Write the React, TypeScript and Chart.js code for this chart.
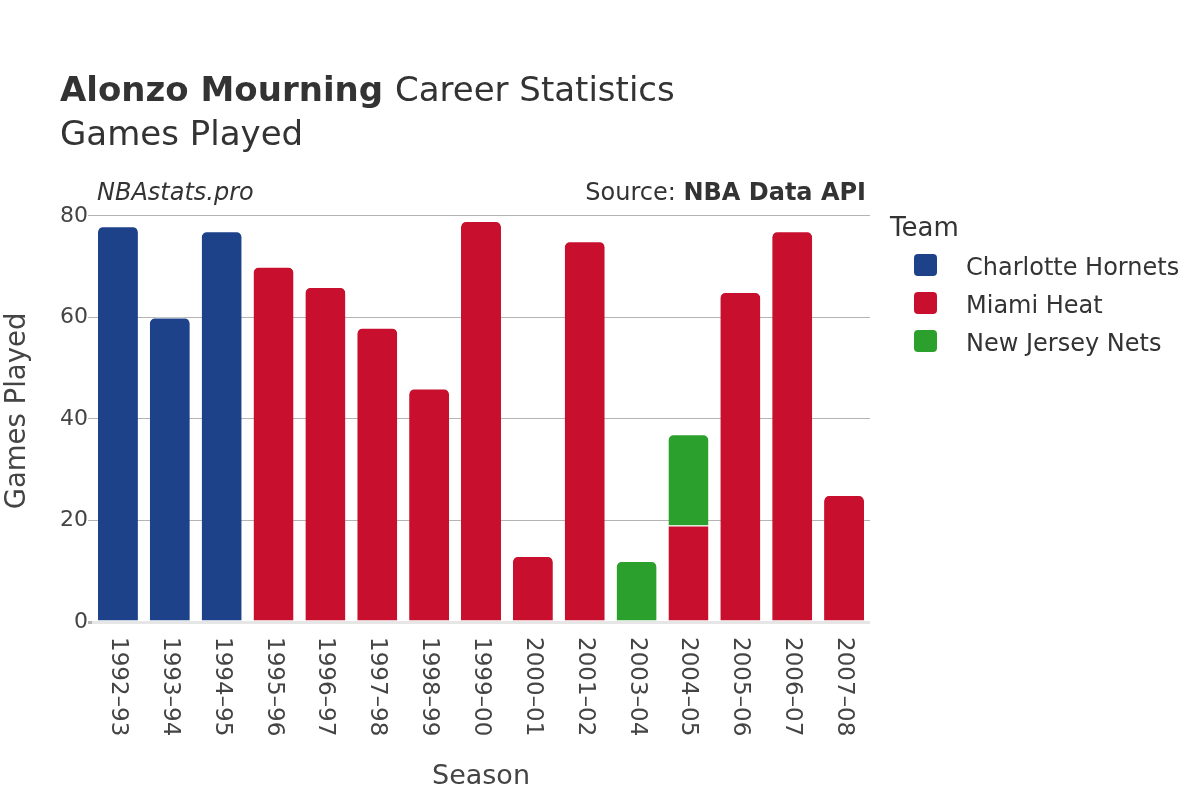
import React, { useEffect, useRef } from "react";
import { Chart, registerables } from "chart.js";

Chart.register(...registerables);

const seasons = [
  "1992–93", "1993–94", "1994–95", "1995–96", "1996–97", "1997–98", "1998–99",
  "1999–00", "2000–01", "2001–02", "2003–04", "2004–05", "2005–06", "2006–07", "2007–08",
];
const charlotteGames = [78, 60, 77, null, null, null, null, null, null, null, null, null, null, null, null];
const miamiGames = [null, null, null, 70, 66, 58, 46, 79, 13, 75, null, 19, 65, 77, 25];
const njGames = [null, null, null, null, null, null, null, null, null, null, 12, 18, null, null, null];
const teamNames = ["Charlotte Hornets", "Miami Heat", "New Jersey Nets"];
const teamColors = ["#1d428a", "#c8102e", "#2ca02c"];
const yTickValues = [0, 20, 40, 60, 80];

const titleBold = "Alonzo Mourning";
const titleRest = "Career Statistics";
const subtitle = "Games Played";
const watermark = "NBAstats.pro";
const sourceLabel = "Source: ";
const sourceBold = "NBA Data API";
const legendTitle = "Team";
const xTitle = "Season";
const yTitle = "Games Played";

const FONT = '"DejaVu Sans", Verdana, sans-serif';
const seriesList = [charlotteGames, miamiGames, njGames];

const textPlugin = {
  id: "textPlugin",
  afterDraw(chart: any) {
    const ctx: CanvasRenderingContext2D = chart.ctx;
    ctx.save();
    ctx.fillStyle = "#333";
    ctx.textAlign = "left";
    ctx.textBaseline = "alphabetic";
    ctx.font = `bold 34px ${FONT}`;
    ctx.fillText(titleBold, 60, 101);
    const tw = ctx.measureText(titleBold + " ").width;
    ctx.font = `34px ${FONT}`;
    ctx.fillText(titleRest, 60 + tw, 101);
    ctx.fillText(subtitle, 60, 145);

    ctx.font = `italic 24px ${FONT}`;
    ctx.fillText(watermark, 97, 200);

    ctx.textAlign = "right";
    ctx.font = `bold 24px ${FONT}`;
    const bw = ctx.measureText(sourceBold).width;
    ctx.fillText(sourceBold, 866, 200);
    ctx.font = `24px ${FONT}`;
    ctx.fillText(sourceLabel, 866 - bw, 200);

    // rotated x tick labels (clockwise)
    const xs = chart.scales.x;
    ctx.fillStyle = "#444";
    ctx.font = `23px ${FONT}`;
    ctx.textAlign = "left";
    ctx.textBaseline = "middle";
    seasons.forEach((s, i) => {
      const x = xs.getPixelForTick(i);
      ctx.save();
      ctx.translate(x, xs.top + 15);
      ctx.rotate(Math.PI / 2);
      ctx.fillText(s, 0, 0);
      ctx.restore();
    });

    // legend
    ctx.fillStyle = "#333";
    ctx.textBaseline = "alphabetic";
    ctx.font = `26px ${FONT}`;
    ctx.fillText(legendTitle, 890, 236);
    ctx.font = `24px ${FONT}`;
    chart.data.datasets.forEach((ds: any, i: number) => {
      const cy = 265 + 38 * i;
      ctx.fillStyle = ds.backgroundColor;
      ctx.beginPath();
      (ctx as any).roundRect(914, cy - 11, 23, 22, 4);
      ctx.fill();
      ctx.fillStyle = "#333";
      ctx.fillText(ds.label, 966, cy + 10);
    });
    ctx.restore();
  },
};

export default function App() {
  const ref = useRef<HTMLCanvasElement | null>(null);
  useEffect(() => {
    if (!ref.current) return;
    Chart.defaults.font.family = FONT;
    const chart = new Chart(ref.current, {
      type: "bar",
      data: {
        labels: seasons,
        datasets: seriesList.map((data, d) => ({
          label: teamNames[d],
          data: data as any,
          backgroundColor: teamColors[d],
          borderColor: "#ffffff",
          borderWidth: { top: 1, left: 0, right: 0, bottom: 0 },
          borderSkipped: "start",
          borderRadius: (c: any) => {
            const i = c.dataIndex;
            const above = seriesList.slice(d + 1).some((s) => s[i] != null && (s[i] as number) > 0);
            return above ? 0 : { topLeft: 6, topRight: 6, bottomLeft: 0, bottomRight: 0 };
          },
          barPercentage: 0.771,
          categoryPercentage: 1,
        })),
      },
      options: {
        animation: false,
        responsive: false,
        maintainAspectRatio: false,
        layout: { padding: { left: 0, top: 200, right: 330, bottom: 7 } },
        plugins: {
          legend: { display: false },
          title: { display: false },
          tooltip: { enabled: false },
        },
        scales: {
          x: {
            stacked: true,
            grid: { display: false },
            border: { display: false },
            ticks: { display: false },
            title: { display: true, text: xTitle, color: "#444", font: { size: 27 }, padding: 0 },
            afterFit: (s: any) => {
              s.height = 171;
            },
          },
          y: {
            stacked: true,
            min: 0,
            max: 83.15,
            afterBuildTicks: (ax: any) => {
              ax.ticks = yTickValues.map((v) => ({ value: v }));
            },
            ticks: { color: "#444", font: { size: 22 }, padding: 0 },
            grid: {
              color: (c: any) => (c.tick && c.tick.value === 0 ? "#e6e6e6" : "#b4b4b4"),
              lineWidth: (c: any) => (c.tick && c.tick.value === 0 ? 3 : 1),
              tickLength: 4,
              tickColor: "#b4b4b4",
            },
            border: { display: false },
            title: { display: true, text: yTitle, color: "#444", font: { size: 27.5 }, padding: { top: 1, bottom: 0 } },
            afterFit: (s: any) => {
              s.width = 92;
            },
          },
        },
      },
      plugins: [textPlugin],
    });
    return () => chart.destroy();
  }, []);
  return (
    <div style={{ position: "absolute", left: 0, top: 0, width: 1200, height: 800, background: "#fff" }}>
      <canvas ref={ref} width={1200} height={800} style={{ display: "block", width: 1200, height: 800 }} />
    </div>
  );
}
